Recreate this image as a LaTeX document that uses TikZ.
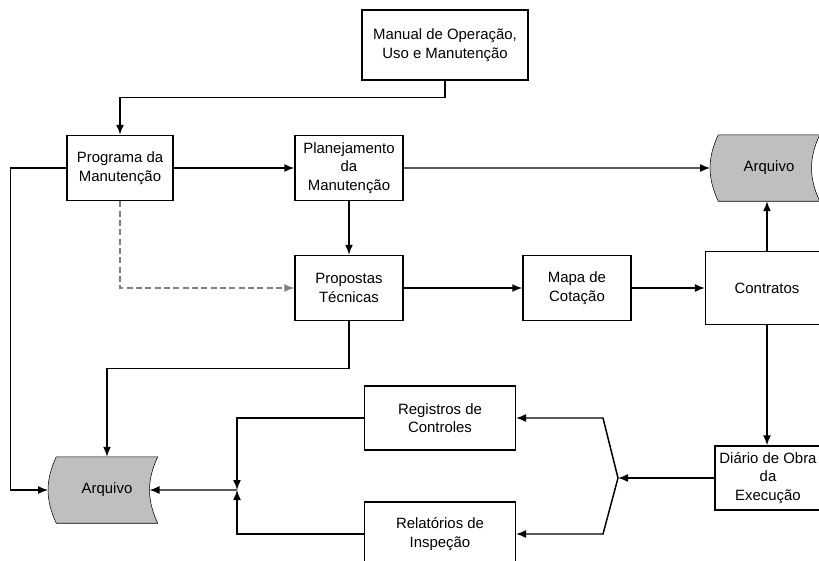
\documentclass[tikz,border=0pt]{standalone}
\usepackage{fontspec}
\setmainfont{Liberation Sans}
\usetikzlibrary{backgrounds,arrows.meta}

\begin{document}
\begin{tikzpicture}[x=.75pt,y=-.75pt,line width=1.1pt,
    box/.style={draw,fill=white,align=center,inner sep=1pt,minimum width=81pt,minimum height=48.75pt,font=\fontsize{11.2}{13.8}\selectfont},
    arq/.style={box,draw=none,fill=none,minimum width=75pt},
    lig/.style={-{Latex[length=7.5pt,width=6pt]}}]
    \useasboundingbox (0,0) rectangle (819,561);

    \node[box,minimum width=124.5pt,minimum height=52.5pt] (man) at (445,45) {Manual de Opera\c{c}\~ao,\\Uso e Manuten\c{c}\~ao};
    \node[box,minimum width=79.5pt] (prog) at (120,168) {Programa da\\Manuten\c{c}\~ao};
    \node[box] (plan) at (349,168) {Planejamento\\da\\Manuten\c{c}\~ao};
    \node[box] (prop) at (349,288) {Propostas\\T\'ecnicas};
    \node[box] (mapa) at (577,288) {Mapa de\\Cota\c{c}\~ao};
    \node[box,minimum width=92pt,minimum height=54.75pt] (contr) at (767,288) {Contratos};
    \node[box,minimum width=79.5pt,minimum height=48pt] (dia) at (768,478) {Di\'ario de Obra\\da\\Execu\c{c}\~ao};
    \node[box,minimum width=113pt,minimum height=48pt] (reg) at (440,418) {Registros de\\Controles};
    \node[box,minimum width=113pt,minimum height=48pt] (rel) at (440,534) {Relat\'orios de\\Inspe\c{c}\~ao};
    \node[arq] (arq1) at (769,168) {Arquivo};
    \node[arq] (arq2) at (107,490) {Arquivo};

    \begin{scope}[on background layer]
      \draw[fill=gray!50] (arq1.north west) to[bend right=25] coordinate[pos=.5] (arq1l) (arq1.south west) -- (arq1.south east) to[bend left=25] coordinate[pos=.5] (arq1r) (arq1.north east) -- cycle;
      \draw[fill=gray!50] (arq2.north west) to[bend right=25] coordinate[pos=.5] (arq2l) (arq2.south west) -- (arq2.south east) to[bend left=25] coordinate[pos=.5] (arq2r) (arq2.north east) -- cycle;
    \end{scope}

    \coordinate (jn) at (237,490);
    \coordinate (fk) at (618,478);
    \coordinate (fku) at (603,418);
    \coordinate (fkd) at (603,534);

    \draw[lig] (man.south) -- ++(0,17) -| (prog.north);
    \draw[lig] (prog) -- (plan);
    \draw[lig] (plan) -- (arq1l);
    \draw[lig] (plan) -- (prop);
    \draw[lig,gray,line width=.8pt,dash pattern=on 4.5pt off 2.5pt] (prog.south) |- (prop.west);
    \draw[lig] (prop) -- (mapa);
    \draw[lig] (mapa) -- (contr);
    \draw[lig] (contr.north) -- (contr.north |- arq1.south);
    \draw[lig] (contr.south) -- (contr.south |- dia.north);
    \draw[lig] (prog.west) -- ++(-56,0) |- (arq2l);
    \draw[lig] (prop.south) -- ++(0,47) -| (arq2.north);
    \draw[lig] (jn) -- (arq2r);
    \draw[lig] (reg.west) -| (jn);
    \draw[lig] (rel.west) -| (jn);
    \draw[lig] (dia.west) -- (fk);
    \draw[lig] (fk) -- (fku) -- (reg.east);
    \draw[lig] (fk) -- (fkd) -- (rel.east);
  \end{tikzpicture}
\end{document}
